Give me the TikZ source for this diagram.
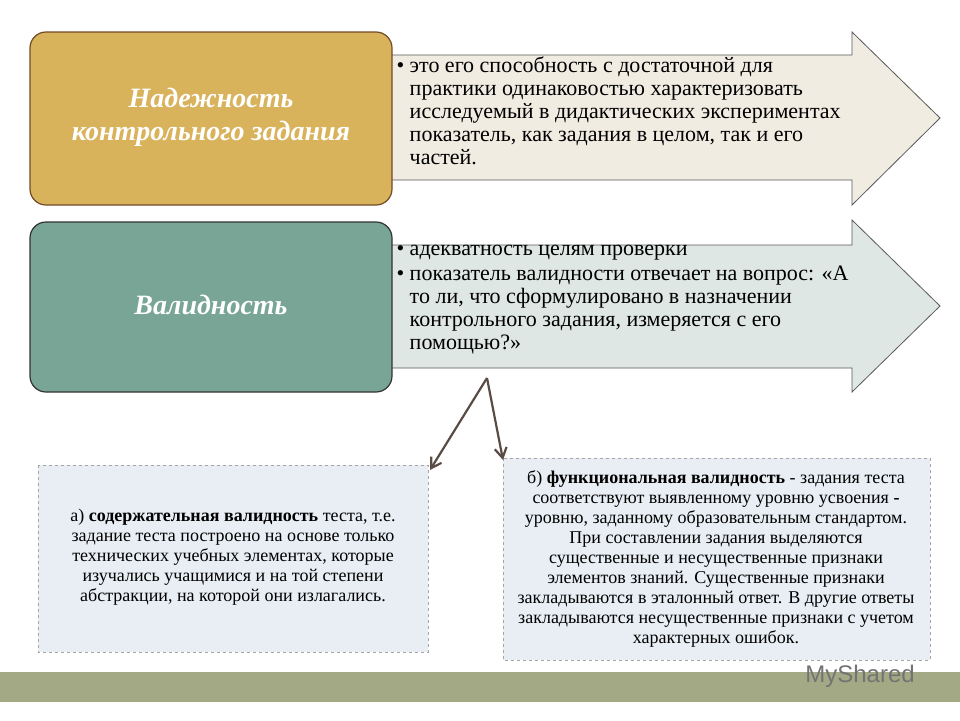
\documentclass[tikz,border=0pt]{standalone}
\usepackage{fontspec}
\usetikzlibrary{arrows.meta}
\setmainfont{Liberation Serif}
\newfontfamily\logofont{Liberation Sans}
\definecolor{gold}{HTML}{D9B35C}
\definecolor{tealc}{HTML}{78A596}
\definecolor{band}{HTML}{A3A984}
\definecolor{boxfill}{HTML}{E9EEF4}
\definecolor{arr1}{HTML}{F1ECE2}
\definecolor{arr2}{HTML}{DFE7E4}
\definecolor{connc}{HTML}{5A4B44}
\begin{document}
\begin{tikzpicture}[x=1pt,y=-1pt,
  arrowshape/.style={draw=gray!70!black,line width=0.8pt},
  keybox/.style={rounded corners=16pt,line width=1.2pt},
  keytext/.style={text=white,font=\bfseries\itshape\fontsize{28}{33}\selectfont,align=center},
  bodytext/.style={anchor=north west,font=\fontsize{22}{23}\selectfont,align=left},
  dbox/.style={draw=gray!70,dashed,fill=boxfill,line width=0.6pt},
  dtext/.style={font=\fontsize{18}{20}\selectfont,align=center},
  conn/.style={draw=connc,line width=2.2pt,-{Straight Barb[length=10pt,width=12pt]}}]
\useasboundingbox (0,0) rectangle (960,720);
\fill[white] (0,0) rectangle (960,720);
% bottom band
\fill[band] (0,672) rectangle (960,702);
\node[text=gray!90!black,font=\logofont\fontsize{24}{24}\selectfont] (logo) at (860,676) {MyShared};
% arrows
\draw[arrowshape,fill=arr1] (390,55) -- (852,55) -- (852,32) -- (940,118) -- (852,205) -- (852,180) -- (390,180) -- cycle;
\draw[arrowshape,fill=arr2] (390,245) -- (852,245) -- (852,220) -- (940,306) -- (852,392) -- (852,368) -- (390,368) -- cycle;
% key boxes
\draw[keybox,draw=brown!60!black,fill=gold] (30,32) rectangle (392,205);
\node[keytext] (k1) at (211,117) {Надежность\\контрольного задания};
\draw[keybox,draw=black!80,fill=tealc] (30,222) rectangle (392,392);
\node[keytext] (k2) at (211,305) {Валидность};
% texts
\node[bodytext] (t1) at (393,53) {\textbullet\ \parbox[t]{470pt}{\raggedright это его способность с достаточной для\\практики одинаковостью характеризовать\\исследуемый в дидактических экспериментах\\показатель, как задания в целом, так и его\\частей.}};
\node[bodytext] (t2) at (393,242) {\textbullet\ \parbox[t]{470pt}{адекватность целям проверки}\\[2pt]\textbullet\ \parbox[t]{470pt}{\raggedright показатель валидности отвечает на вопрос: «А\\то ли, что сформулировано в назначении\\контрольного задания, измеряется с его\\помощью?»}};
% dashed boxes
\draw[dbox] (38,465) rectangle (428,652);
\node[dtext] (a) at (233,557) {а) \textbf{содержательная валидность} теста, т.е.\\задание теста построено на основе только\\технических учебных элементах, которые\\изучались учащимися и на той степени\\абстракции, на которой они излагались.};
\draw[dbox] (503,458) rectangle (930,660);
\node[dtext] (b) at (716,559) {б) \textbf{функциональная валидность} - задания теста\\соответствуют выявленному уровню усвоения \textbf{-}\\уровню, заданному образовательным стандартом.\\При составлении задания выделяются\\существенные и несущественные признаки\\элементов знаний. Существенные признаки\\закладываются в эталонный ответ. В другие ответы\\закладываются несущественные признаки с учетом\\характерных ошибок.};
\coordinate (src) at (487,378);
\coordinate (ea) at (430,470);
\coordinate (eb) at (503,460);
\draw[conn] (src) -- (ea);
\draw[conn] (src) -- (eb);
\end{tikzpicture}
\end{document}
